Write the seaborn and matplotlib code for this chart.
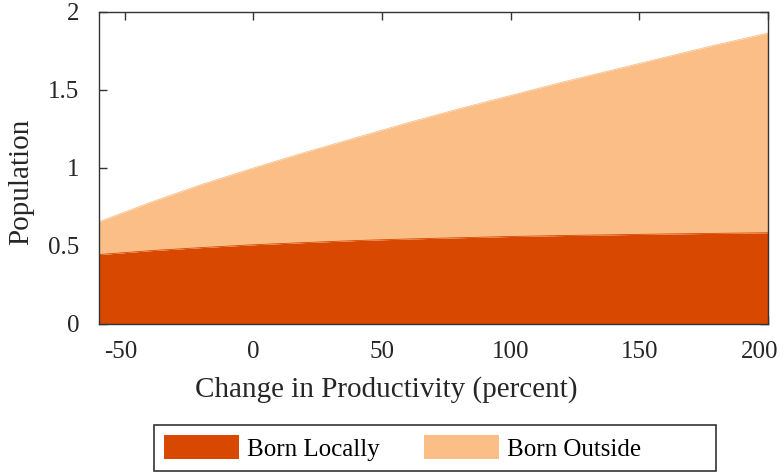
import matplotlib
matplotlib.use("Agg")
import matplotlib.pyplot as plt
import matplotlib.transforms as mtransforms
import seaborn as sns
import pandas as pd
from matplotlib.patches import Patch, Rectangle

# Change in productivity (percent)
productivity = [-60, -40, -20, 0, 20, 40, 60, 80, 100, 120, 140, 160, 180, 200]
# Population born locally
born_locally = [0.445, 0.470, 0.490, 0.508, 0.522, 0.535, 0.545, 0.553,
                0.561, 0.567, 0.572, 0.577, 0.581, 0.585]
# Total population (locally born + born outside)
total_population = [0.655, 0.780, 0.895, 1.000, 1.100, 1.195, 1.290, 1.380,
                    1.465, 1.550, 1.630, 1.710, 1.790, 1.865]
born_outside = [t - l for t, l in zip(total_population, born_locally)]

series_names = ["Born Locally", "Born Outside"]
series_colors = ["#d94801", "#fbbe86"]
x_ticks = [-50, 0, 50, 100, 150, 200]
x_tick_labels = ["-50", "0", "50", "100", "150", "200"]
y_ticks = [0, 0.5, 1, 1.5, 2]
y_tick_labels = ["0", "0.5", "1", "1.5", "2"]

df = pd.DataFrame({"x": productivity, "local": born_locally,
                   "outside": born_outside})
df["top"] = df["local"] + df["outside"]

sns.set_theme(style="ticks")
plt.rcParams["font.family"] = ["Liberation Serif", "DejaVu Serif"]
plt.rcParams["axes.unicode_minus"] = False

W, H = 784, 472
fig = plt.figure(figsize=(W / 100, H / 100), dpi=100)
ax = fig.add_axes([99 / W, 1 - 324 / H, (768 - 99) / W, (324 - 12) / H])

# stacked areas: locally born at the bottom, born outside on top
ax.fill_between(df["x"], 0, df["local"], color=series_colors[0], lw=0)
ax.fill_between(df["x"], df["local"], df["top"], color=series_colors[1], lw=0)
sns.lineplot(data=df, x="x", y="top", ax=ax, color=series_colors[1], lw=0.6)
sns.lineplot(data=df, x="x", y="local", ax=ax, color=series_colors[0], lw=0.6)

ax.set_xlim(-60, 200)
ax.set_ylim(0, 2)
ax.set_xticks(x_ticks)
ax.set_xticklabels(x_tick_labels)
ax.set_yticks(y_ticks)
ax.set_yticklabels(y_tick_labels)

ax.set_xlabel("Change in Productivity (percent)", fontsize=21, color="#262626")
ax.set_ylabel("Population", fontsize=21, color="#262626")
ax.xaxis.set_label_coords((386 - 99) / 669, -(376 - 324) / 312)
ax.yaxis.set_label_coords((34 - 99) / 669, (324 - 182) / 312)

ax.tick_params(axis="both", direction="in", length=6, width=1,
               colors="#333333", labelsize=18, labelcolor="#262626",
               top=True, right=True)
ax.tick_params(axis="x", pad=12)
ax.tick_params(axis="y", pad=14)
for sp in ax.spines.values():
    sp.set_visible(True)
    sp.set_color("#333333")
    sp.set_linewidth(1.0)

# keep the outermost x labels inside the figure
fig.canvas.draw()
xlabels = ax.get_xticklabels()
xlabels[-1].set_transform(xlabels[-1].get_transform() +
                          mtransforms.ScaledTranslation(-8 / 100, 0, fig.dpi_scale_trans))
xlabels[0].set_transform(xlabels[0].get_transform() +
                         mtransforms.ScaledTranslation(-4 / 100, 0, fig.dpi_scale_trans))

# legend entries, with a box drawn around them
handles = [Patch(facecolor=c, edgecolor="none", label=n)
           for c, n in zip(series_colors, series_names)]
leg = fig.legend(handles=handles, loc="center left", ncol=2,
                 bbox_to_anchor=(164 / W, 1 - 448 / H), frameon=False,
                 fontsize=18, handlelength=3.0, handleheight=1.05,
                 columnspacing=1.76, handletextpad=0.32, borderpad=0,
                 borderaxespad=0)
for t in leg.get_texts():
    t.set_color("black")
fig.patches.append(Rectangle((154 / W, 1 - 471 / H), (716 - 154) / W,
                             (471 - 425) / H, transform=fig.transFigure,
                             facecolor="white", edgecolor="#333333",
                             linewidth=1.2, zorder=0))

fig.savefig("out.png", dpi=100)
